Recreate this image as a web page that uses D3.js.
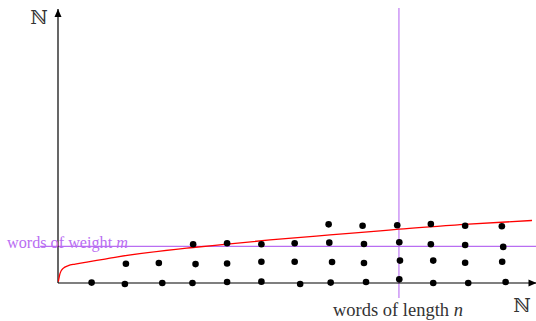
<!DOCTYPE html>
<html>
<head>
<meta charset="utf-8">
<script src="https://cdn.jsdelivr.net/npm/d3@7"></script>
<style>
  body { margin: 0; background: #fff; }
  text { font-family: "Liberation Serif", "DejaVu Serif", serif; }
</style>
</head>
<body>
<svg id="chart" width="536" height="321"></svg>
<script>
// dots: words, column = length n, row = weight m (with hand-placed jitter)
const row0 = [[0.98,0.02],[1.95,-0.05],[3.04,0],[3.92,0],[4.93,0.05],[5.93,0.07],[7.06,-0.05],[7.95,0.02],[8.98,0.05],[9.95,0.19],[10.94,0],[11.96,0],[13.05,0.05]];
const row1 = [[1.98,1.0],[2.94,1.04],[4.01,0.98],[4.93,1.01],[5.93,1.10],[6.90,1.10],[7.99,1.09],[8.92,1.04],[9.97,1.16],[10.94,1.16],[11.87,1.05],[12.95,1.10]];
const row2 = [[3.94,2.01],[4.93,2.06],[5.93,2.01],[6.90,2.06],[7.91,2.09],[8.92,2.02],[9.95,2.11],[10.87,2.01],[11.87,1.97],[12.98,1.87]];
const row3 = [[7.89,3.04],[8.88,2.97],[9.89,2.99],[10.87,3.06],[11.87,2.97],[12.94,2.94]];

// red curve
const curvePts = [[0.01,0.07],[0.06,0.50],[0.15,0.76],[0.30,0.90],[0.50,0.98],[0.88,1.10],[1.37,1.24],[1.66,1.33],[3.94,1.84],[4.78,1.99],[6.18,2.23],[7.93,2.49],[9.39,2.70],[9.94,2.79],[11.72,3.02],[13.82,3.24]];

const weightM = 1.9;   // horizontal purple line
const lengthN = 9.94;  // vertical purple line

const svg = d3.select("#chart");
const purple = "#b96ef2";

const x = d3.scaleLinear().domain([0, 14]).range([58, 538.2]);
const y = d3.scaleLinear().domain([0, 14.25]).range([283, 8]);

// arrow heads
const defs = svg.append("defs");
defs.append("marker")
  .attr("id", "arr")
  .attr("viewBox", "0 0 10 10")
  .attr("refX", 10).attr("refY", 5)
  .attr("markerWidth", 8).attr("markerHeight", 8)
  .attr("markerUnits", "userSpaceOnUse")
  .attr("orient", "auto")
  .append("path")
  .attr("d", "M0,0.6 L10,5 L0,9.4 Z")
  .attr("fill", "black");

// purple lines
svg.append("line")
  .attr("x1", x(-0.52)).attr("x2", x(13.94))
  .attr("y1", y(weightM)).attr("y2", y(weightM))
  .attr("stroke", purple).attr("stroke-width", 1.1);
svg.append("line")
  .attr("x1", x(lengthN)).attr("x2", x(lengthN))
  .attr("y1", y(-0.78)).attr("y2", y(14.25))
  .attr("stroke", purple).attr("stroke-width", 1.1);

// axes
svg.append("line")
  .attr("x1", x(0)).attr("x2", x(0))
  .attr("y1", y(0)).attr("y2", y(14.2))
  .attr("stroke", "black").attr("stroke-width", 1.2)
  .attr("marker-end", "url(#arr)");
svg.append("line")
  .attr("x1", x(0)).attr("x2", x(13.95))
  .attr("y1", y(0)).attr("y2", y(0))
  .attr("stroke", "black").attr("stroke-width", 1.2)
  .attr("marker-end", "url(#arr)");

// red curve
const line = d3.line()
  .x(d => x(d[0]))
  .y(d => y(d[1]))
  .curve(d3.curveMonotoneX);
svg.append("path")
  .datum(curvePts)
  .attr("d", line)
  .attr("fill", "none")
  .attr("stroke", "#ff0000")
  .attr("stroke-width", 1.3);

// dots
const dots = [].concat(row0, row1, row2, row3);
svg.selectAll("circle.word")
  .data(dots)
  .enter().append("circle")
  .attr("class", "word")
  .attr("cx", d => x(d[0]))
  .attr("cy", d => y(d[1]))
  .attr("r", 3.3)
  .attr("fill", "black");

// labels
svg.append("text")
  .attr("x", 39).attr("y", 24)
  .attr("text-anchor", "middle")
  .attr("font-size", 19)
  .attr("fill", "#333")
  .text("ℕ");
svg.append("text")
  .attr("x", 522).attr("y", 312)
  .attr("text-anchor", "middle")
  .attr("font-size", 19)
  .attr("fill", "#333")
  .text("ℕ");

const wl = svg.append("text")
  .attr("x", x(lengthN) - 1).attr("y", 316)
  .attr("text-anchor", "middle")
  .attr("font-size", 18.5)
  .attr("fill", "#333");
wl.append("tspan").text("words of length ");
wl.append("tspan").attr("font-style", "italic").text("n");

const ww = svg.append("text")
  .attr("x", 7).attr("y", 247.5)
  .attr("font-size", 16.2)
  .attr("fill", purple);
ww.append("tspan").text("words of weight ");
ww.append("tspan").attr("font-style", "italic").text("m");
</script>
</body>
</html>
